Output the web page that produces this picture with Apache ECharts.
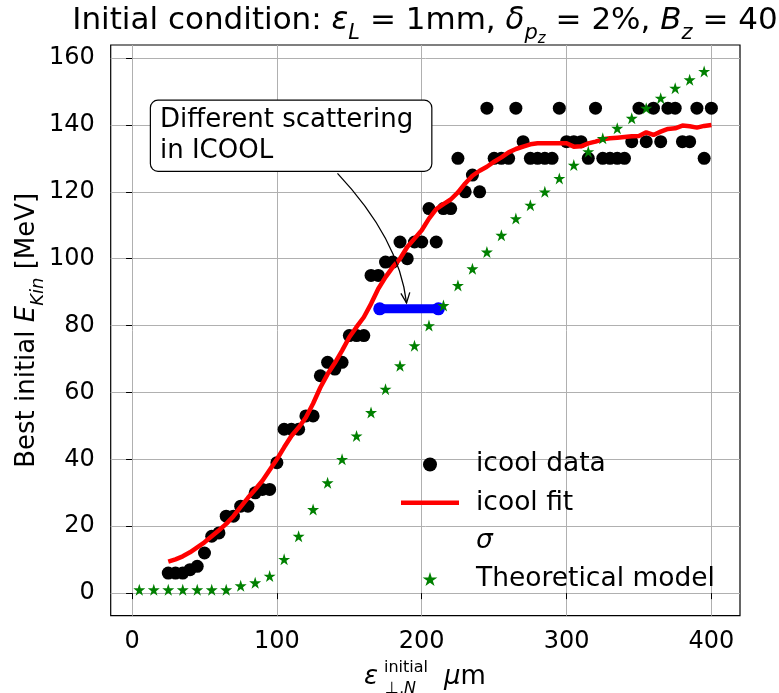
<!DOCTYPE html>
<html><head><meta charset="utf-8">
<script src="https://cdn.jsdelivr.net/npm/echarts@6/dist/echarts.min.js"></script>
<style>html,body{margin:0;padding:0;background:#fff}#c{width:779px;height:693px}</style>
</head><body><div id="c"></div>
<script>
// ---- data ----
const icoolX = [25,30,35,40,45,50,55,60,65,70,75,80,85,90,95,100,105,110,115,120,125,130,135,140,145,150,155,160,
  165,170,175,180,185,190,195,200,205,210,215,220,225,230,235,240,245,250,255,260,265,270,275,280,285,290,295,300,
  305,310,315,320,325,330,335,340,345,350,355,360,365,370,375,380,385,390,395,400];
const icoolY = [6,6,6,7,8,12,17,18,23,23,26,26,30,31,31,39,49,49,49,53,53,65,69,67,69,77,77,77,
  95,95,99,99,105,100,105,105,115,105,115,115,130,120,125,120,145,130,130,130,145,135,130,130,130,130,145,135,
  135,135,130,145,130,130,130,130,135,145,135,145,135,145,145,135,135,145,130,145];
const fitX = icoolX;
const fitY = [9.4,10.1,11,12.2,13.7,15.2,17,18.8,20.7,23,25.8,28.5,31,33.6,36.8,40,43.6,47,49.5,52.5,56.7,61.5,65.5,68.8,72.5,76.5,79.6,82.5,
  86.5,91,94.5,97.5,100,103.5,106,108.5,112,114.8,116.3,117.7,119.8,122.5,124.8,126.3,127.5,129,130.3,131.8,132.8,133.5,134.2,134.5,134.5,134.5,134.5,134.5,
  133.5,133.6,134.5,135,135.7,136,136.2,136.4,136.6,136.7,137.8,137,138,138.8,139,139.8,139.6,139.2,139.7,140];
const sigmaX = [171, 211.5];
const sigmaY = [85, 85];
const theoryX = [5,15,25,35,45,55,65,75,85,95,105,115,125,135,145,155,165,175,185,195,205,215,225,235,245,255,265,275,285,295,305,315,325,335,345,355,365,375,385,395];
const theoryY = [1,1,1,1,1,1,1,2.2,3.1,5.1,10.1,17,25,33,40,47,54,61,68,74,80,86,92,97,102,107,112,116,120,124,128,132,136,139,142,145,148,151,153.5,156];
const xTicks = [0,100,200,300,400];
const yTicks = [0,20,40,60,80,100,120,140,160];
const annoXY = [189.5, 86.8];      // arrow tip (data)
const annoText = [21, 130];        // text anchor, left/baseline of last line (data)

const F = '"DejaVu Sans", "Liberation Sans", sans-serif';
const STAR = 'path://M50,0 L61.2,34.5 L97.6,34.5 L68.2,55.9 L79.4,90.5 L50,69.1 L20.6,90.5 L31.8,55.9 L2.4,34.5 L38.8,34.5 Z';
const LINEICON = 'path://M0,0 L58,0 L58,4.5 L0,4.5 Z';

const zip = (a, b) => a.map((v, i) => [v, b[i]]);
const chart = echarts.init(document.getElementById('c'), null, {renderer: 'canvas'});

const axisCommon = {
  type: 'value',
  axisLine: {show: false},
  axisTick: {show: true, inside: false, length: 6, lineStyle: {color: '#000', width: 1}},
  splitLine: {show: true, lineStyle: {color: '#b0b0b0', width: 1}},
};
const tok = (size, italic, extra) => Object.assign({fontFamily: F, fontSize: size, fontStyle: italic ? 'italic' : 'normal',
  fontWeight: 'normal', color: '#000'}, extra || {});

chart.setOption({
  animation: false,
  backgroundColor: '#fff',
  title: {
    left: 425, top: 5, textAlign: 'center', padding: 0,
    text: '{n|Initial condition: }{i|ε}{s|L}{n| = 1mm, }{i|δ}{s|p}{ss|z}{n| = 2%, }{i|B}{s|z}{n| = 40}',
    textStyle: {
      fontWeight: 'normal',
      rich: {
        n: tok(31, false, {lineHeight: 40, verticalAlign: 'top'}),
        i: tok(31, true, {lineHeight: 40, verticalAlign: 'top'}),
        s: tok(21, true, {lineHeight: 21, verticalAlign: 'top', padding: [18, 0, 0, 0]}),
        ss: tok(15, true, {lineHeight: 15, verticalAlign: 'top', padding: [27, 0, 0, 0]})
      }
    }
  },
  grid: {left: 110.7, right: 39, top: 45, bottom: 77.3, show: true, borderColor: '#000', borderWidth: 1.2, containLabel: false},
  xAxis: Object.assign({}, axisCommon, {
    min: -14.75, max: 419.75,
    axisTick: Object.assign({}, axisCommon.axisTick, {customValues: xTicks}),
    axisLabel: {customValues: xTicks, margin: 14, fontFamily: F, fontSize: 24, color: '#000'}
  }),
  yAxis: Object.assign({}, axisCommon, {
    min: -6.75, max: 163.9,
    axisTick: Object.assign({}, axisCommon.axisTick, {customValues: yTicks}),
    axisLabel: {customValues: yTicks, margin: 16, fontFamily: F, fontSize: 24, color: '#000'},
    name: '{n|Best initial }{i|E}{s|Kin}{n| [MeV]}',
    nameLocation: 'middle', nameRotate: 90, nameGap: 66, nameMoveOverlap: false,
    nameTextStyle: {
      rich: {
        n: tok(26, false, {lineHeight: 30, verticalAlign: 'top'}),
        i: tok(26, true, {lineHeight: 30, verticalAlign: 'top'}),
        s: tok(18, true, {lineHeight: 18, verticalAlign: 'top', padding: [15, 0, 0, 0]})
      }
    }
  }),
  legend: {
    orient: 'vertical', left: 401, top: 451, padding: 0, itemWidth: 58, itemHeight: 14, itemGap: 11.2,
    textStyle: {fontFamily: F, fontSize: 26.5, color: '#000', padding: [0, 0, 0, 12]},
    data: [
      {name: 'icool data'},
      {name: 'icool fit', icon: LINEICON},
      {name: 'σ', icon: 'circle', itemStyle: {color: 'rgba(0,0,0,0)', opacity: 0}, lineStyle: {opacity: 0}, textStyle: {fontStyle: 'italic'}},
      {name: 'Theoretical model'}
    ]
  },
  series: [
    {name: 'icool data', type: 'scatter', data: zip(icoolX, icoolY), symbol: 'circle', symbolSize: 13,
      itemStyle: {color: '#000', opacity: 1}, z: 2},
    {name: 'icool fit', type: 'line', data: zip(fitX, fitY), symbol: 'none', showSymbol: false,
      lineStyle: {color: '#ff0000', width: 4.5}, itemStyle: {color: '#ff0000'}, z: 3},
    {name: 'σ', type: 'line', data: zip(sigmaX, sigmaY), symbol: 'circle', symbolSize: 13,
      lineStyle: {color: '#0000ff', width: 9}, itemStyle: {color: '#0000ff'}, z: 4},
    {name: 'Theoretical model', type: 'scatter', data: zip(theoryX, theoryY), symbol: STAR, symbolSize: 12,
      itemStyle: {color: '#008000', opacity: 1}, z: 5}
  ]
});

// annotation & x-axis label
const tip = chart.convertToPixel({gridIndex: 0}, annoXY);
const tA = chart.convertToPixel({gridIndex: 0}, annoText);
const boxLeft = tA[0] - 11.5, boxTop = tA[1] - 57.6;
const start = [tA[0] + 175, tA[1] + 15];
const ctrl = [tip[0] - 7.5, tip[1] - 64];
const dx = tip[0] - ctrl[0], dy = tip[1] - ctrl[1];
const L = Math.hypot(dx, dy), ux = dx / L, uy = dy / L;
const hl = 11, ang = 0.42;
const rot = (a) => [ux * Math.cos(a) - uy * Math.sin(a), ux * Math.sin(a) + uy * Math.cos(a)];
const r1 = rot(ang), r2 = rot(-ang);

chart.setOption({
  graphic: [
    {type: 'text', x: boxLeft, y: boxTop, z: 100,
      style: {text: 'Different scattering\nin ICOOL', font: '26px ' + F, fill: '#000', lineHeight: 31,
        padding: [4, 18, 4, 9], backgroundColor: '#fff', borderColor: '#000', borderWidth: 1.2, borderRadius: 7,
        align: 'left', verticalAlign: 'top'}},
    {type: 'bezierCurve', z: 100,
      shape: {x1: start[0], y1: start[1], x2: tip[0], y2: tip[1], cpx1: ctrl[0], cpy1: ctrl[1]},
      style: {stroke: '#000', lineWidth: 1.3, fill: null}},
    {type: 'polyline', z: 100,
      shape: {points: [[tip[0] - hl * r1[0], tip[1] - hl * r1[1]], tip, [tip[0] - hl * r2[0], tip[1] - hl * r2[1]]]},
      style: {stroke: '#000', lineWidth: 1.3, fill: null}},
    {type: 'text', x: 364, y: 677, z: 100,
      style: {text: 'ε', font: 'italic 26px ' + F, fill: '#000', align: 'left', verticalAlign: 'middle'}},
    {type: 'text', x: 384, y: 668, z: 100,
      style: {text: 'initial', font: '16px ' + F, fill: '#000', align: 'left', verticalAlign: 'middle'}},
    {type: 'text', x: 385, y: 688.5, z: 100,
      style: {text: '{n|⊥,}{i|N}', rich: {n: {fontFamily: F, fontSize: 16, fill: '#000'}, i: {fontFamily: F, fontSize: 16, fontStyle: 'italic', fill: '#000'}},
        align: 'left', verticalAlign: 'middle'}},
    {type: 'text', x: 444, y: 677, z: 100,
      style: {text: '{i|μ}{n|m}', rich: {n: {fontFamily: F, fontSize: 26, fill: '#000'}, i: {fontFamily: F, fontSize: 26, fontStyle: 'italic', fill: '#000'}},
        align: 'left', verticalAlign: 'middle'}}
  ]
});
</script></body></html>
